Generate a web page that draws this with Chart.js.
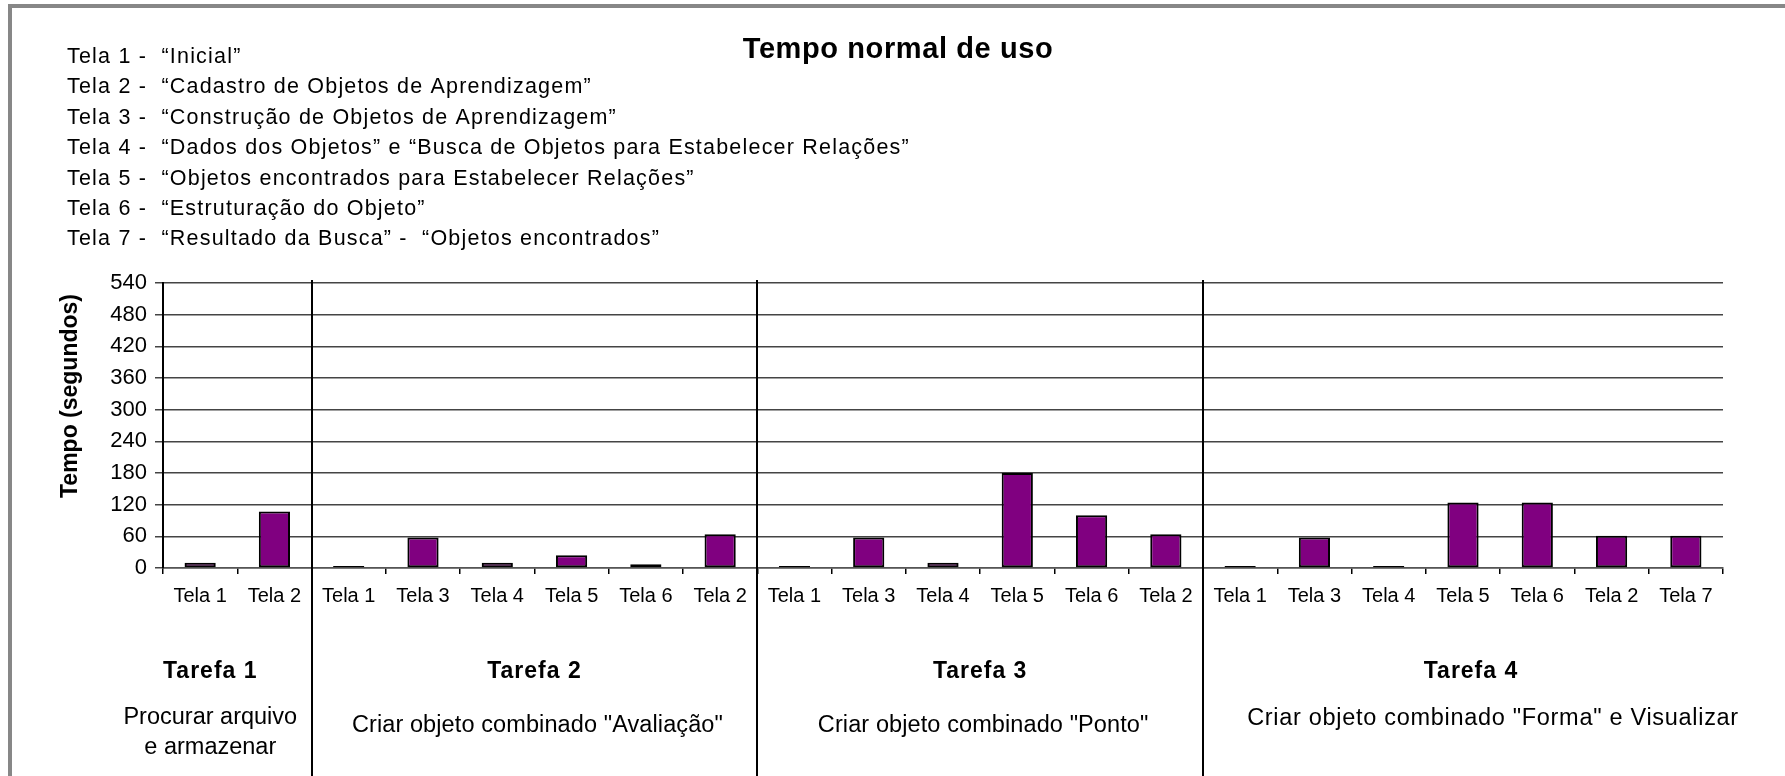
<!DOCTYPE html>
<html>
<head>
<meta charset="utf-8">
<script src="https://cdn.jsdelivr.net/npm/chart.js@4.4.1/dist/chart.umd.min.js"></script>
<style>
  body { margin: 0; background: #fff; }
  canvas { display: block; }
</style>
</head>
<body>
<canvas id="myChart" width="1785" height="776"></canvas>
<script>
'use strict';

// screens of each task, in order
const telas = ['Tela 1', 'Tela 2',
  'Tela 1', 'Tela 3', 'Tela 4', 'Tela 5', 'Tela 6', 'Tela 2',
  'Tela 1', 'Tela 3', 'Tela 4', 'Tela 5', 'Tela 6', 'Tela 2',
  'Tela 1', 'Tela 3', 'Tela 4', 'Tela 5', 'Tela 6', 'Tela 2', 'Tela 7'];

// time in seconds
const tempos = [10, 107,
  4, 58, 10, 24, 7, 64,
  4, 58, 10, 180, 100, 64,
  4, 58, 4, 124, 124, 61, 61];

const tarefas = ['Tarefa 1', 'Tarefa 2', 'Tarefa 3', 'Tarefa 4'];
const telasPorTarefa = [2, 6, 6, 7];
const descricoes = [
  ['Procurar arquivo', 'e armazenar'],
  ['Criar objeto combinado "Avaliação"'],
  ['Criar objeto combinado "Ponto"'],
  ['Criar objeto combinado "Forma" e Visualizar']
];

const yMax = 540;
const yStep = 60;

const legenda = [
  'Tela 1 -  “Inicial”',
  'Tela 2 -  “Cadastro de Objetos de Aprendizagem”',
  'Tela 3 -  “Construção de Objetos de Aprendizagem”',
  'Tela 4 -  “Dados dos Objetos” e “Busca de Objetos para Estabelecer Relações”',
  'Tela 5 -  “Objetos encontrados para Estabelecer Relações”',
  'Tela 6 -  “Estruturação do Objeto”',
  'Tela 7 -  “Resultado da Busca” -  “Objetos encontrados”'
];

const titulo = 'Tempo normal de uso';
const tituloEixoY = 'Tempo (segundos)';

const FONT = '"Liberation Sans", Arial, sans-serif';
Chart.defaults.font.family = FONT;
Chart.defaults.color = '#000';

// frame, title, legend lines, task dividers and task captions
const extras = {
  id: 'extras',
  afterDraw(chart) {
    const ctx = chart.ctx;
    const area = chart.chartArea;
    const x = chart.scales.x;
    ctx.save();

    // gray frame (top and left only are visible)
    ctx.fillStyle = '#878787';
    ctx.fillRect(8, 4, chart.width - 8, 4);
    ctx.fillRect(8, 4, 4, chart.height - 4);

    // title
    ctx.fillStyle = '#000';
    ctx.textAlign = 'center';
    ctx.textBaseline = 'alphabetic';
    ctx.font = 'bold 29px ' + FONT;
    ctx.letterSpacing = '0.6px';
    ctx.fillText(titulo, 898, 58);

    // legend text
    ctx.textAlign = 'left';
    ctx.font = '21.5px ' + FONT;
    ctx.letterSpacing = '1.2px';
    legenda.forEach((t, i) => ctx.fillText(t, 67, 63 + i * 30.4));
    ctx.letterSpacing = '0px';

    // y axis title
    ctx.save();
    ctx.translate(77, 396);
    ctx.rotate(-Math.PI / 2);
    ctx.textAlign = 'center';
    ctx.font = 'bold 23px ' + FONT;
    ctx.fillText(tituloEixoY, 0, 0);
    ctx.restore();

    // dividers and captions
    let start = 0;
    const half = (x.getPixelForValue(1) - x.getPixelForValue(0)) / 2;
    tarefas.forEach((tarefa, g) => {
      const end = start + telasPorTarefa[g] - 1;
      const left = x.getPixelForValue(start) - half;
      const right = x.getPixelForValue(end) + half;
      let cx = (left + right) / 2;
      if (g === 0) cx -= 27;

      if (g > 0) {
        ctx.strokeStyle = '#000';
        ctx.lineWidth = 2;
        ctx.beginPath();
        ctx.moveTo(Math.round(left), area.top - 3);
        ctx.lineTo(Math.round(left), chart.height);
        ctx.stroke();
      }

      ctx.textAlign = 'center';
      ctx.font = 'bold 23px ' + FONT;
      ctx.letterSpacing = '1px';
      ctx.fillText(tarefa, g === 3 ? cx + 8 : cx, 678);

      ctx.font = '23.5px ' + FONT;
      const linhas = descricoes[g];
      if (linhas.length > 1) {
        ctx.letterSpacing = '0px';
        linhas.forEach((l, i) => ctx.fillText(l, cx, 724 + i * 30));
      } else if (g === 3) {
        ctx.letterSpacing = '0.7px';
        ctx.fillText(linhas[0], cx + 30, 725);
      } else {
        ctx.letterSpacing = '0.1px';
        ctx.fillText(linhas[0], cx + 3, 732);
      }
      ctx.letterSpacing = '0px';
      start = end + 1;
    });
    ctx.restore();
  }
};

const ctx = document.getElementById('myChart').getContext('2d');
const myChart = new Chart(ctx, {
  type: 'bar',
  data: {
    labels: telas,
    datasets: [{
      label: tituloEixoY,
      data: tempos,
      backgroundColor: '#800080',
      borderColor: '#000',
      borderWidth: 2,
      borderSkipped: false,
      barPercentage: 0.42,
      categoryPercentage: 1
    }]
  },
  options: {
    responsive: false,
    animation: false,
    devicePixelRatio: 1,
    layout: { padding: { top: 283, left: 0, right: 62, bottom: 0 } },
    plugins: {
      legend: { display: false },
      title: { display: false },
      tooltip: { enabled: false }
    },
    scales: {
      x: {
        grid: {
          offset: true,
          drawOnChartArea: false,
          tickLength: 6,
          color: '#000',
          lineWidth: 1.5
        },
        border: { color: '#555', width: 1.5 },
        ticks: {
          font: { size: 20 },
          padding: 10,
          maxRotation: 0,
          autoSkip: false
        },
        afterFit(s) { s.height = 208; }
      },
      y: {
        min: 0,
        max: yMax,
        grid: { color: '#444', lineWidth: 1.5, tickLength: 8 },
        border: { color: '#000', width: 2 },
        ticks: { stepSize: yStep, font: { size: 22 }, padding: 8 },
        afterFit(s) { s.width = 163; }
      }
    }
  },
  plugins: [extras]
});
</script>
</body>
</html>
